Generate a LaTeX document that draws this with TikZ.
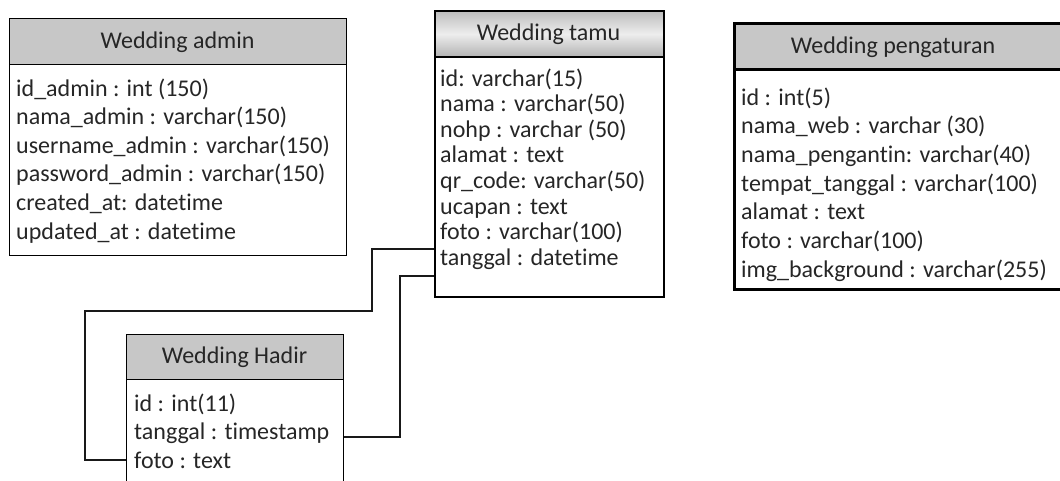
\documentclass[tikz,border=0pt]{standalone}
\usepackage{fontspec}
\setmainfont{Carlito}[Ligatures={NoCommon}]
\begin{document}
\begin{tikzpicture}[x=1pt,y=-1pt,
  every node/.style={font=\fontsize{24}{28}\selectfont, text=black!85, inner sep=0pt},
  tablebox/.style={draw=black, anchor=north west, inner sep=0pt},
  headplain/.style={fill=black!22},
  headshade/.style={top color=black!26, bottom color=black!30, middle color=black!7},
  row/.style={anchor=base west},
  title/.style={anchor=base},
  link/.style={draw=black!90, line width=1.4pt}]
\useasboundingbox (0,0) rectangle (1060,480);
\clip (0,0) rectangle (1060,480);

% ---- Wedding admin ----
\node[tablebox, line width=1.3pt, minimum width=337pt, minimum height=237pt] (admin) at (9,18) {};
\node[tablebox, headplain, line width=1.3pt, minimum width=337pt, minimum height=46pt] (adminhead) at (9,18) {};
\node[title] (admint) at (177.5,48) {Wedding admin};
\node[row] (a1) at (16,96)    {id\_admin : int (150)};
\node[row] (a2) at (16,124.6) {nama\_admin : varchar(150)};
\node[row] (a3) at (16,153.2) {username\_admin : varchar(150)};
\node[row] (a4) at (16,181.8) {password\_admin : varchar(150)};
\node[row] (a5) at (16,210.4) {created\_at: datetime};
\node[row] (a6) at (16,239)   {updated\_at : datetime};

% ---- Wedding tamu ----
\node[tablebox, line width=2pt, minimum width=229pt, minimum height=286pt] (tamu) at (434,10) {};
\node[tablebox, headshade, line width=2pt, minimum width=229pt, minimum height=46pt] (tamuhead) at (434,10) {};
\node[title] (tamut) at (548.5,40) {Wedding tamu};
\node[row] (t1) at (440,86)    {id: varchar(15)};
\node[row] (t2) at (440,111.6) {nama : varchar(50)};
\node[row] (t3) at (440,137.2) {nohp : varchar (50)};
\node[row] (t4) at (440,162.8) {alamat : text};
\node[row] (t5) at (440,188.4) {qr\_code: varchar(50)};
\node[row] (t6) at (440,214)   {ucapan : text};
\node[row] (t7) at (440,239.6) {foto : varchar(100)};
\node[row] (t8) at (440,265.2) {tanggal : datetime};

% ---- Wedding pengaturan ----
\node[tablebox, line width=3pt, minimum width=340pt, minimum height=266pt] (atur) at (733,22) {};
\node[tablebox, headplain, line width=3pt, minimum width=340pt, minimum height=46pt] (aturhead) at (733,22) {};
\node[title] (aturt) at (893,53) {Wedding pengaturan};
\node[row] (p1) at (741,105)   {id : int(5)};
\node[row] (p2) at (741,133.7) {nama\_web : varchar (30)};
\node[row] (p3) at (741,162.4) {nama\_pengantin: varchar(40)};
\node[row] (p4) at (741,191.1) {tempat\_tanggal : varchar(100)};
\node[row] (p5) at (741,219.8) {alamat : text};
\node[row] (p6) at (741,248.5) {foto : varchar(100)};
\node[row] (p7) at (741,277.2) {img\_background : varchar(255)};

% ---- Wedding Hadir ----
\node[tablebox, line width=1.3pt, minimum width=217pt, minimum height=170pt] (hadir) at (126,334) {};
\node[tablebox, headplain, line width=1.3pt, minimum width=217pt, minimum height=45pt] (hadirhead) at (126,334) {};
\node[title] (hadirt) at (234.5,363) {Wedding Hadir};
\node[row] (h1) at (134,411)   {id : int(11)};
\node[row] (h2) at (134,439.5) {tanggal : timestamp};
\node[row] (h3) at (134,468)   {foto : text};

% ---- relations ----
\coordinate (r1a) at (372,249);
\coordinate (r1b) at (85,311);
\coordinate (r1c) at (85,460);
\coordinate (r2a) at (400,276);
\coordinate (r2b) at (400,437);
\draw[link] (tamu.west |- r1a) -- (r1a) |- (r1b) -- (r1c) -- (hadir.west |- r1c);
\draw[link] (tamu.west |- r2a) -- (r2a) -- (r2b) -- (hadir.east |- r2b);
\end{tikzpicture}
\end{document}
